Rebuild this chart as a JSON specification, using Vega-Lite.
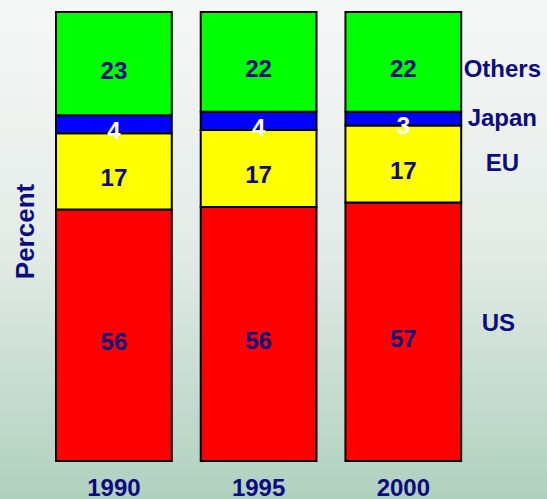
{
  "$schema": "https://vega.github.io/schema/vega-lite/v6.json",
  "width": 547,
  "height": 499,
  "autosize": {"type": "none"},
  "padding": 0,
  "background": "#e6ece9",
  "config": {
    "view": {
      "stroke": null,
      "fill": {
        "gradient": "linear",
        "x1": 0, "y1": 0, "x2": 0, "y2": 1,
        "stops": [
          {"offset": 0, "color": "#f6f8f7"},
          {"offset": 0.5, "color": "#e3ebe7"},
          {"offset": 1, "color": "#b0d0be"}
        ]
      }
    },
    "font": "Liberation Sans"
  },
  "data": {
    "values": [
      {"year": "1990", "region": "US", "order": 1, "value": 56},
      {"year": "1990", "region": "EU", "order": 2, "value": 17},
      {"year": "1990", "region": "Japan", "order": 3, "value": 4},
      {"year": "1990", "region": "Others", "order": 4, "value": 23},
      {"year": "1995", "region": "US", "order": 1, "value": 56},
      {"year": "1995", "region": "EU", "order": 2, "value": 17},
      {"year": "1995", "region": "Japan", "order": 3, "value": 4},
      {"year": "1995", "region": "Others", "order": 4, "value": 22},
      {"year": "2000", "region": "US", "order": 1, "value": 57},
      {"year": "2000", "region": "EU", "order": 2, "value": 17},
      {"year": "2000", "region": "Japan", "order": 3, "value": 3},
      {"year": "2000", "region": "Others", "order": 4, "value": 22}
    ]
  },
  "transform": [
    {"stack": "value", "groupby": ["year"], "sort": [{"field": "order", "order": "ascending"}], "offset": "normalize", "as": ["y0", "y1"]},
    {"calculate": "(datum.y0 + datum.y1) / 2", "as": "ymid"}
  ],
  "encoding": {
    "x": {
      "field": "year",
      "type": "nominal",
      "scale": {"paddingInner": 0.2, "paddingOuter": 0.49, "align": 0.395},
      "axis": {
        "title": null,
        "labelAngle": 0,
        "ticks": false,
        "domain": false,
        "grid": false,
        "offset": -23,
        "labelPadding": 0,
        "labelFont": "Liberation Sans",
        "labelFontSize": 24,
        "labelFontWeight": "bold",
        "labelColor": "#0c0c80",
        "labelBaseline": "top"
      }
    }
  },
  "layer": [
    {
      "mark": {"type": "bar", "stroke": "black", "strokeWidth": 2},
      "encoding": {
        "y": {
          "field": "y1",
          "type": "quantitative",
          "scale": {"domain": [-0.0846, 1.0267], "nice": false, "zero": false},
          "axis": {
            "title": "Percent",
            "labels": false,
            "ticks": false,
            "domain": false,
            "grid": false,
            "titleX": 33,
            "titleY": 231,
            "titleAngle": -90,
            "titleAlign": "center",
            "titleBaseline": "alphabetic",
            "titleFont": "Liberation Sans",
            "titleFontSize": 26,
            "titleFontWeight": "bold",
            "titleColor": "#0c0c80"
          }
        },
        "y2": {"field": "y0"},
        "color": {
          "field": "region",
          "type": "nominal",
          "scale": {"domain": ["US", "EU", "Japan", "Others"], "range": ["#ff0000", "#ffff00", "#0000ff", "#00ff00"]},
          "legend": null
        }
      }
    },
    {
      "mark": {"type": "text", "font": "Liberation Sans", "fontSize": 24, "fontWeight": "bold", "baseline": "middle", "dy": 8},
      "encoding": {
        "y": {"field": "ymid", "type": "quantitative"},
        "text": {"field": "value", "type": "quantitative"},
        "color": {
          "condition": {"test": "datum.region === 'Japan'", "value": "#ffffff"},
          "value": "#0c0c80"
        }
      }
    },
    {
      "transform": [{"filter": "datum.year === '2000' && datum.region === 'Others'"}],
      "mark": {"type": "text", "font": "Liberation Sans", "fontSize": 24, "fontWeight": "bold", "baseline": "middle", "align": "center", "dx": 99, "dy": 8, "color": "#0c0c80"},
      "encoding": {
        "y": {"field": "ymid", "type": "quantitative"},
        "text": {"field": "region", "type": "nominal"}
      }
    },
    {
      "transform": [{"filter": "datum.year === '2000' && (datum.region === 'Japan' || datum.region === 'EU')"}],
      "mark": {"type": "text", "font": "Liberation Sans", "fontSize": 24, "fontWeight": "bold", "baseline": "middle", "align": "center", "dx": 99, "dy": 0, "color": "#0c0c80"},
      "encoding": {
        "y": {"field": "ymid", "type": "quantitative"},
        "text": {"field": "region", "type": "nominal"}
      }
    },
    {
      "transform": [{"filter": "datum.year === '2000' && datum.region === 'US'"}],
      "mark": {"type": "text", "font": "Liberation Sans", "fontSize": 24, "fontWeight": "bold", "baseline": "middle", "align": "center", "dx": 95, "dy": -8, "color": "#0c0c80"},
      "encoding": {
        "y": {"field": "ymid", "type": "quantitative"},
        "text": {"field": "region", "type": "nominal"}
      }
    }
  ]
}
